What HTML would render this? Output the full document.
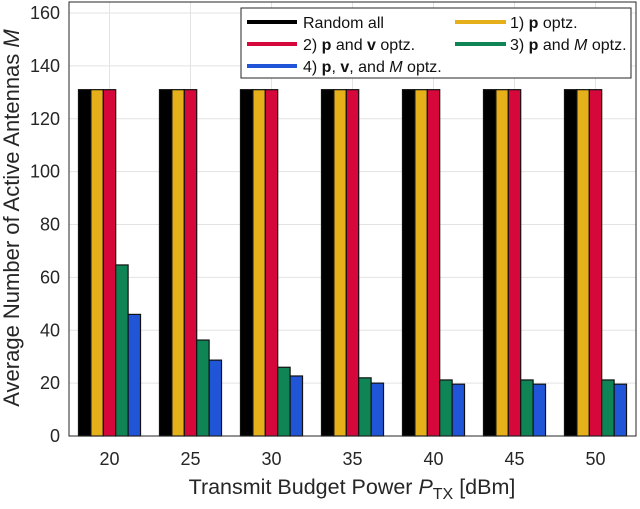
<!DOCTYPE html>
<html><head><meta charset="utf-8"><style>
body{margin:0;background:#fff;}
svg text{font-family:"Liberation Sans",sans-serif;}
</style></head><body>
<svg id="chart" width="640" height="504" xmlns="http://www.w3.org/2000/svg">
<g id="grid"></g><g id="bars"></g><g id="axes"></g>
</svg>
<script>
const categories=[20,25,30,35,40,45,50];
const seriesNames=["Random all","1) p optz.","2) p and v optz.","3) p and M optz.","4) p, v, and M optz."];
const randomAll=[131,131,131,131,131,131,131];
const pOptz=[131,131,131,131,131,131,131];
const pvOptz=[131,131,131,131,131,131,131];
const pMOptz=[64.7,36.3,26,22,21.2,21.2,21.2];
const pvMOptz=[46,28.7,22.7,20,19.6,19.6,19.6];
const yTicks=[0,20,40,60,80,100,120,140,160];
const colors=["#000000","#e6b01a","#d6083b","#0f8555","#1f55d6"];
const series=[randomAll,pOptz,pvOptz,pMOptz,pvMOptz];
const L=69,R=636,TOP=2,B=436,Y160=13;
const x=v=>L+(v-17.5)/35*(R-L);
const y=v=>B-v/160*(B-Y160);
const NS="http://www.w3.org/2000/svg";
function mk(tag,attrs,parent,txt){const e=document.createElementNS(NS,tag);for(const k in attrs)e.setAttribute(k,attrs[k]);if(txt!==undefined)e.textContent=txt;document.getElementById(parent).appendChild(e);return e;}
yTicks.forEach(t=>{
 const g=mk('line',{x1:L,x2:R,y1:y(t),y2:y(t),stroke:'#e3e3e3','stroke-width':1},'grid');
 
 
 const tx=mk('text',{x:L-9,y:y(t)+6,'text-anchor':'end','font-size':18,fill:'#262626'},'axes',t);
 
 
});
categories.forEach(c=>{
 const g=mk('line',{x1:x(c),x2:x(c),y1:TOP,y2:B,stroke:'#e3e3e3','stroke-width':1},'grid');
 
 
 const tx=mk('text',{x:x(c),y:465,'text-anchor':'middle','font-size':18,fill:'#262626'},'axes',c);
 
 
});
const bw=(x(3.83)-x(0))/5;
categories.forEach((c,i)=>{
 series.forEach((s,j)=>{
  const bx=x(c)-2.5*bw+j*bw;
  const r=mk('rect',{x:bx,y:y(s[i]),width:bw,height:B-y(s[i]),fill:colors[j],stroke:'#111','stroke-width':1.2},'bars');
  
  
 });
});
const frame=mk('rect',{x:L,y:TOP,width:R-L,height:B-TOP,fill:'none',stroke:'#262626','stroke-width':1},'axes');


</script>
<svg style="position:absolute;left:0;top:0" width="640" height="504" xmlns="http://www.w3.org/2000/svg">
<g font-size="16" fill="#111" font-family="Liberation Sans, sans-serif">
<rect x="241" y="8" width="390" height="70" fill="#fff" stroke="#262626" stroke-width="1"/>
<g><line x1="247" x2="297" y1="22" y2="22" stroke="#000" stroke-width="4"/><text x="303" y="28">Random all</text></g>
<g><line x1="455" x2="506" y1="22" y2="22" stroke="#e6b01a" stroke-width="4"/><text x="510" y="28">1) <tspan font-weight="bold">p</tspan> optz.</text></g>
<g><line x1="247" x2="297" y1="44" y2="44" stroke="#d6083b" stroke-width="4"/><text x="303" y="50">2) <tspan font-weight="bold">p</tspan> and <tspan font-weight="bold">v</tspan> optz.</text></g>
<g><line x1="455" x2="506" y1="44" y2="44" stroke="#0f8555" stroke-width="4"/><text x="510" y="50">3) <tspan font-weight="bold">p</tspan> and <tspan font-style="italic">M</tspan> optz.</text></g>
<g><line x1="247" x2="297" y1="66" y2="66" stroke="#1f55d6" stroke-width="4"/><text x="303" y="72">4) <tspan font-weight="bold">p</tspan>, <tspan font-weight="bold">v</tspan>, and <tspan font-style="italic">M</tspan> optz.</text></g>
</g>
<text x="352" y="494" text-anchor="middle" font-size="21.5" fill="#262626" font-family="Liberation Sans, sans-serif">Transmit Budget Power  <tspan font-style="italic">P</tspan><tspan font-size="16" dy="5">TX</tspan><tspan dy="-5"> [dBm]</tspan></text>
<text transform="translate(19,218) rotate(-90)" text-anchor="middle" font-size="22" fill="#262626" font-family="Liberation Sans, sans-serif">Average Number of Active Antennas <tspan font-style="italic">M</tspan></text>
</svg>
</body></html>
